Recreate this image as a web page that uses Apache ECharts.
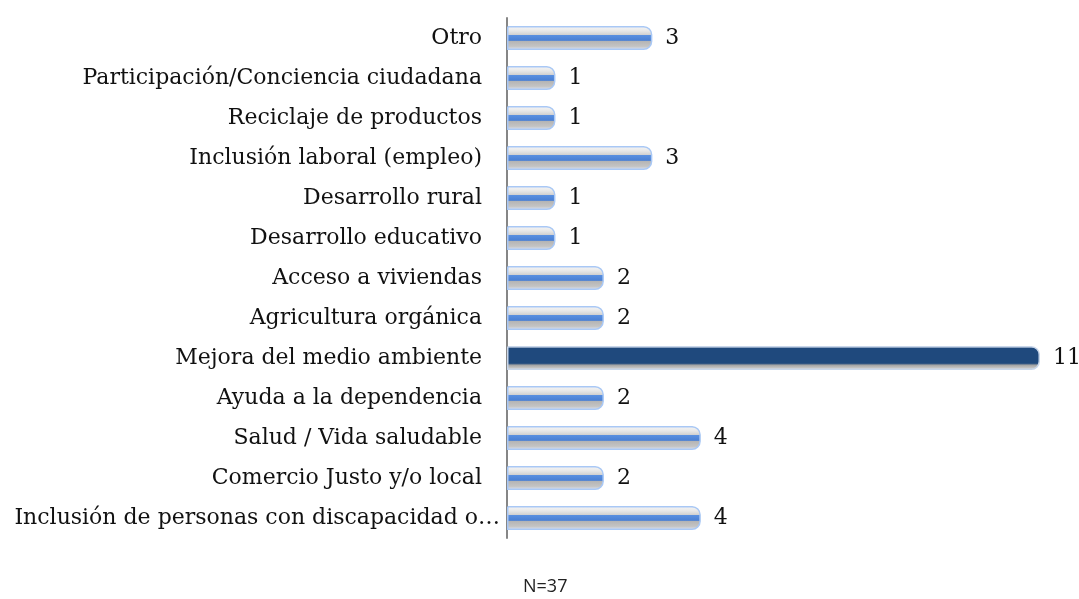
<!DOCTYPE html>
<html>
<head>
<meta charset="utf-8">
<script src="https://cdn.jsdelivr.net/npm/echarts@6/dist/echarts.min.js"></script>
<style>
  html, body { margin: 0; padding: 0; background: #fff; }
  #chart { width: 1079px; height: 599px; }
</style>
</head>
<body>
<div id="chart"></div>
<script>
var categories = [
  "Otro",
  "Participación/Conciencia ciudadana",
  "Reciclaje de productos",
  "Inclusión laboral (empleo)",
  "Desarrollo rural",
  "Desarrollo educativo",
  "Acceso a viviendas",
  "Agricultura orgánica",
  "Mejora del medio ambiente",
  "Ayuda a la dependencia",
  "Salud / Vida saludable",
  "Comercio Justo y/o local",
  "Inclusión de personas con discapacidad o…"
];
var values = [3, 1, 1, 3, 1, 1, 2, 2, 11, 2, 4, 2, 4];
var highlight = "Mejora del medio ambiente";
var footNote = "N=37";

var chart = echarts.init(document.getElementById('chart'));

// barra normal: gris arriba, franja azul, gris abajo
var normalColor = new echarts.graphic.LinearGradient(0, 0, 0, 1, [
  { offset: 0, color: '#f6f6f6' },
  { offset: 0.2, color: '#e8e8e8' },
  { offset: 0.36, color: '#d2d2d2' },
  { offset: 0.38, color: '#5a90e0' },
  { offset: 0.6, color: '#4a80d4' },
  { offset: 0.63, color: '#b4b4b4' },
  { offset: 0.85, color: '#c4c4c4' },
  { offset: 1, color: '#dfe8f8' }
]);
var darkColor = new echarts.graphic.LinearGradient(0, 0, 0, 1, [
  { offset: 0, color: '#ffffff' },
  { offset: 0.08, color: '#1f497d' },
  { offset: 0.72, color: '#1f497d' },
  { offset: 0.8, color: '#a4a4a4' },
  { offset: 1, color: '#dcdcdc' }
]);

var barData = [];
var catData = [];
for (var i = 0; i < values.length; i++) {
  var dark = categories[i] == highlight;
  barData.push({
    value: values[i],
    itemStyle: {
      color: dark ? darkColor : normalColor,
      borderColor: dark ? '#c8d6ea' : '#a9c8f5',
      borderWidth: 1.5,
      borderRadius: [0, 8, 8, 0]
    }
  });
  // la etiqueta recortada llega casi hasta el eje
  var cut = categories[i].indexOf('…') > -1;
  catData.push({
    value: categories[i],
    textStyle: { padding: cut ? [0, 0, 0, 0] : [0, 18, 0, 0] }
  });
}

var option = {
  animation: false,
  grid: { left: 507, right: 39, top: 18, bottom: 61 },
  xAxis: {
    type: 'value',
    min: 0,
    max: 11,
    show: false
  },
  yAxis: {
    type: 'category',
    data: catData,
    inverse: true,
    axisLine: { show: true, lineStyle: { color: '#868686', width: 2 } },
    axisTick: { show: false },
    axisLabel: {
      margin: 7,
      fontFamily: 'DejaVu Serif',
      fontSize: 22,
      color: '#111'
    }
  },
  series: [{
    type: 'bar',
    data: barData,
    barWidth: 24,
    label: {
      show: true,
      position: 'right',
      distance: 13,
      fontFamily: 'DejaVu Serif',
      fontSize: 22,
      color: '#111'
    }
  }],
  graphic: [{
    type: 'text',
    left: 523,
    top: 578,
    style: {
      text: footNote,
      font: '18px "Open Sans"',
      fill: '#222'
    }
  }]
};
chart.setOption(option);
</script>
</body>
</html>
